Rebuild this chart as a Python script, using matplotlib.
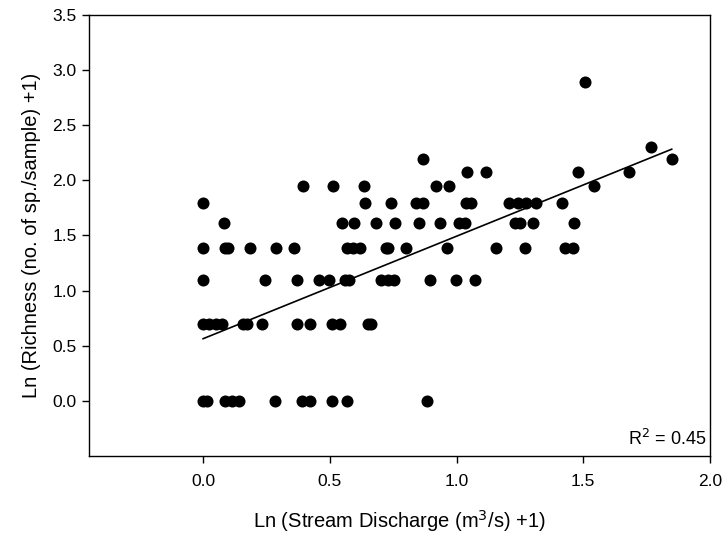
import numpy as np
import matplotlib.pyplot as plt

plt.rcParams['font.family'] = ['Liberation Sans', 'DejaVu Sans']

# Ln(discharge + 1) grouped by richness level (ln of species count + 1)
x_r0 = [0.0, 0.015, 0.088, 0.114, 0.14, 0.283, 0.391, 0.423, 0.508, 0.569, 0.885]
x_r069 = [0.0, 0.025, 0.05, 0.074, 0.157, 0.173, 0.233, 0.372, 0.42, 0.51, 0.541,
          0.652, 0.664]
x_r110 = [0.0, 0.243, 0.37, 0.457, 0.495, 0.56, 0.574, 0.703, 0.73, 0.755, 0.897,
          0.996, 1.072]
x_r139 = [0.0, 0.086, 0.1, 0.186, 0.286, 0.357, 0.569, 0.591, 0.62, 0.72, 0.728,
          0.802, 0.963, 1.155, 1.269, 1.429, 1.46]
x_r161 = [0.081, 0.549, 0.594, 0.684, 0.756, 0.852, 0.936, 1.01, 1.034, 1.23, 1.25,
          1.302, 1.464]
x_r179 = [0.0, 0.637, 0.74, 0.842, 0.868, 1.039, 1.059, 1.206, 1.243, 1.276, 1.313,
          1.417]
x_r195 = [0.394, 0.512, 0.635, 0.92, 0.97, 1.543]
x_r208 = [1.041, 1.115, 1.48, 1.681]
x_r220 = [0.868, 1.849]
x_r230 = [1.767]
x_r289 = [1.506]

groups = [(x_r0, 0.0), (x_r069, 0.693), (x_r110, 1.099), (x_r139, 1.386),
          (x_r161, 1.609), (x_r179, 1.792), (x_r195, 1.946), (x_r208, 2.079),
          (x_r220, 2.197), (x_r230, 2.303), (x_r289, 2.890)]

x = np.concatenate([g[0] for g in groups])
y = np.concatenate([[g[1]] * len(g[0]) for g in groups])

# regression line as printed on the figure (fit to the full data set)
fit_intercept = 0.563
fit_slope = 0.93
fit_r2 = 0.45
xl = np.array([x.min(), x.max()])
yl = fit_slope * xl + fit_intercept

fig = plt.figure(figsize=(7.25, 5.44), dpi=100)
ax = fig.add_axes([0.1228, 0.162, 0.8565, 0.8104])

ax.scatter(x, y, s=75, color='black', zorder=3, linewidths=0)
ax.plot(xl, yl, color='black', linewidth=1.2)

ax.set_xlim(-0.45, 2.0)
ax.set_ylim(-0.5, 3.5)
ax.set_xticks([0.0, 0.5, 1.0, 1.5, 2.0])
ax.set_yticks([0.0, 0.5, 1.0, 1.5, 2.0, 2.5, 3.0, 3.5])
ax.set_xticklabels(['0.0', '0.5', '1.0', '1.5', '2.0'])
ax.set_yticklabels(['0.0', '0.5', '1.0', '1.5', '2.0', '2.5', '3.0', '3.5'])
ax.tick_params(axis='x', direction='out', length=5, width=1, labelsize=12.5, pad=8)
ax.tick_params(axis='y', direction='out', length=5, width=1, labelsize=12.5, pad=4)
for sp in ax.spines.values():
    sp.set_linewidth(1)

ax.set_xlabel('Ln (Stream Discharge (m$^3$/s) +1)', fontsize=14.5, labelpad=14)
ax.set_ylabel('Ln (Richness (no. of sp./sample) +1)', fontsize=14.5, labelpad=8)

ax.text(0.995, 0.015, 'R$^2$ = %.2f' % fit_r2, transform=ax.transAxes,
        ha='right', va='bottom', fontsize=13)

fig.savefig('out.png', dpi=100)
